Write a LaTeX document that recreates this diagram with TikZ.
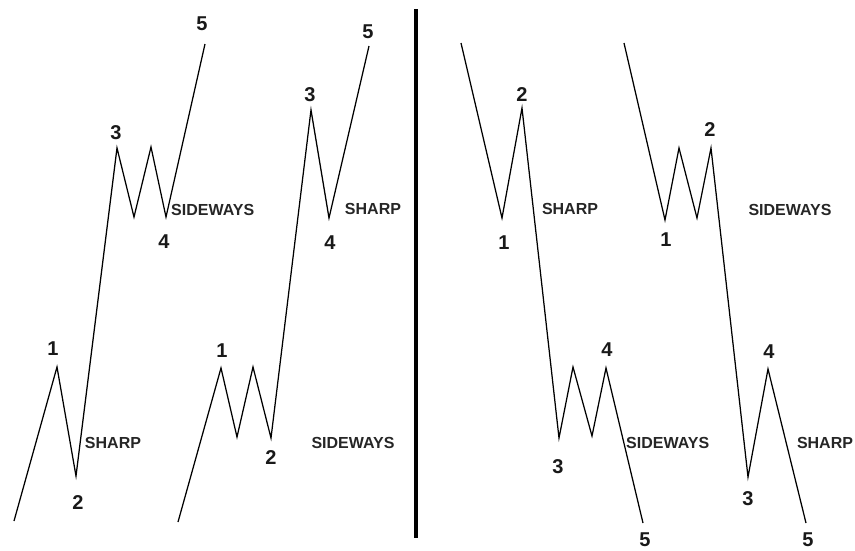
\documentclass[tikz,border=0pt]{standalone}
\usepackage{fontspec}
\setmainfont{Liberation Sans}
\usepackage{tikz}
\usetikzlibrary{positioning}
\tikzset{
  wave/.style={line width=1.25pt, black, line join=miter},
  num/.style={font=\fontsize{20}{20}\selectfont\bfseries, text=black!90, inner sep=0pt},
  tag/.style={font=\fontsize{16}{16}\selectfont\bfseries, text=black!85, inner sep=0pt},
  divider/.style={line width=3.8pt, black}
}

\begin{document}
\begin{tikzpicture}[x=1pt, y=-1pt]

  \useasboundingbox (0,0) rectangle (855,550);

  % panel A: rising, sharp 2 and sideways 4
  \coordinate (a0) at (14,521);
  \coordinate (a1) at (57,367);
  \coordinate (a2) at (76,476);
  \coordinate (a3) at (117,148);
  \coordinate (a3b) at (134,217);
  \coordinate (a3c) at (151,147);
  \coordinate (a4) at (166,217);
  \coordinate (a5) at (205,44);
  \draw[wave] (a0) -- (a1) -- (a2) -- (a3) -- (a3b) -- (a3c) -- (a4) -- (a5);
  \node[num] (a1n) at (53,349) {1};
  \node[num] (a2n) at (78,503) {2};
  \node[num] (a3n) at (116,133) {3};
  \node[num] (a4n) at (164,242) {4};
  \node[num] (a5n) at (202,24) {5};
  \node[tag] (a2t) at (113,443) {SHARP};
  \node[tag, anchor=west] (a4t) at (171,210) {SIDEWAYS};

  % panel B: rising, sideways 2 and sharp 4
  \coordinate (b0) at (178,522);
  \coordinate (b1) at (221,368);
  \coordinate (b1b) at (237,437);
  \coordinate (b1c) at (253,367);
  \coordinate (b2) at (271,438);
  \coordinate (b3) at (311,110);
  \coordinate (b4) at (329,218);
  \coordinate (b5) at (369,46);
  \draw[wave] (b0) -- (b1) -- (b1b) -- (b1c) -- (b2) -- (b3) -- (b4) -- (b5);
  \node[num] (b1n) at (222,351) {1};
  \node[num] (b2n) at (271,458) {2};
  \node[num] (b3n) at (310,95) {3};
  \node[num] (b4n) at (330,243) {4};
  \node[num] (b5n) at (368,32) {5};
  \node[tag] (b2t) at (353,443) {SIDEWAYS};
  \node[tag] (b4t) at (373,209) {SHARP};

  % split line
  \coordinate (top) at (416,9);
  \coordinate (bot) at (416,538);
  \draw[divider] (top) -- (bot);

  % panel C: falling, sharp 2 and sideways 4
  \coordinate (c0) at (461,43);
  \coordinate (c1) at (502,218);
  \coordinate (c2) at (522,108);
  \coordinate (c3) at (559,438);
  \coordinate (c3b) at (573,367);
  \coordinate (c3c) at (592,436);
  \coordinate (c4) at (606,368);
  \coordinate (c5) at (643,523);
  \draw[wave] (c0) -- (c1) -- (c2) -- (c3) -- (c3b) -- (c3c) -- (c4) -- (c5);
  \node[num] (c1n) at (504,243) {1};
  \node[num] (c2n) at (522,95) {2};
  \node[num] (c3n) at (558,467) {3};
  \node[num] (c4n) at (607,350) {4};
  \node[num] (c5n) at (645,540) {5};
  \node[tag] (c2t) at (570,209) {SHARP};
  \node[tag, anchor=west] (c4t) at (626,443) {SIDEWAYS};

  % panel D: falling, sideways 2 and sharp 4
  \coordinate (d0) at (624,43);
  \coordinate (d1) at (665,220);
  \coordinate (d1b) at (679,148);
  \coordinate (d1c) at (697,218);
  \coordinate (d2) at (711,148);
  \coordinate (d3) at (748,477);
  \coordinate (d4) at (768,369);
  \coordinate (d5) at (806,523);
  \draw[wave] (d0) -- (d1) -- (d1b) -- (d1c) -- (d2) -- (d3) -- (d4) -- (d5);
  \node[num] (d1n) at (666,240) {1};
  \node[num] (d2n) at (710,130) {2};
  \node[num] (d3n) at (748,499) {3};
  \node[num] (d4n) at (769,352) {4};
  \node[num] (d5n) at (808,540) {5};
  \node[tag] (d2t) at (790,210) {SIDEWAYS};
  \node[tag] (d4t) at (825,443) {SHARP};

\end{tikzpicture}
\end{document}
